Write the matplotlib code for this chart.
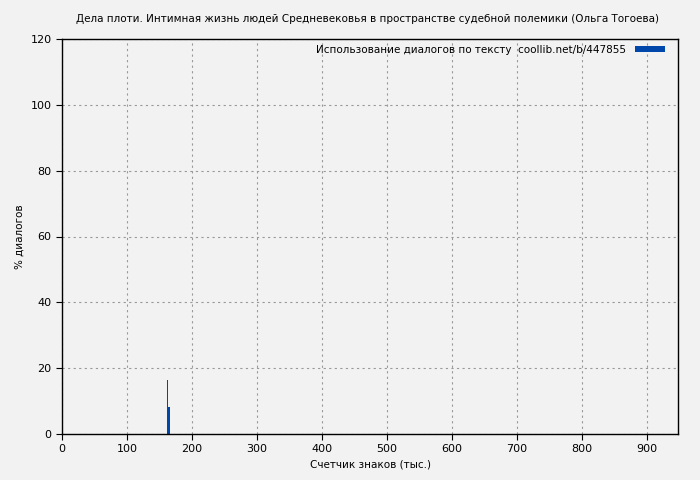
import matplotlib
matplotlib.use("Agg")
import matplotlib.pyplot as plt
from matplotlib.patches import Patch

title = "Дела плоти. Интимная жизнь людей Средневековья в пространстве судебной полемики (Ольга Тогоева)"
legend_label = "Использование диалогов по тексту  coollib.net/b/447855"
x_pos = [162.3, 164.2]
heights = [16.4, 8.3]
widths = [1.5, 2.6]
x_ticks = [0, 100, 200, 300, 400, 500, 600, 700, 800, 900]
y_ticks = [0, 20, 40, 60, 80, 100, 120]

bg = "#f2f2f2"
color = "#0047ab"

plt.rcParams['font.family'] = ['DejaVu Sans']
fig = plt.figure(figsize=(7, 4.8), dpi=100, facecolor=bg)
ax = fig.add_axes([62/700, 1-434/480, (678-62)/700, (434-39)/480])
ax.set_facecolor(bg)
ax.bar(x_pos, heights, width=widths, color=color, align='center', linewidth=0)
ax.set_xlim(0, 948)
ax.set_ylim(0, 120)
ax.set_xticks(x_ticks)
ax.set_yticks(y_ticks)
ax.grid(True, color="#999999", linestyle=(0, (2, 3)), linewidth=0.8)
ax.set_axisbelow(True)
ax.tick_params(direction='out', length=4, labelsize=8, colors='black')
for s in ax.spines.values():
    s.set_color('black')
    s.set_linewidth(1)
ax.set_xlabel("Счетчик знаков (тыс.)", fontsize=7.5)
ax.set_ylabel("% диалогов", fontsize=7.5)
fig.text(368/700, 1-19/480, title, ha='center', va='center', fontsize=7.5)
h = Patch(facecolor=color, edgecolor='none')
leg = ax.legend([h], [legend_label], loc='upper right', frameon=False, fontsize=7.5,
                handlelength=2.9, handleheight=0.45, markerfirst=False,
                borderaxespad=0, borderpad=0, handletextpad=0.8,
                bbox_to_anchor=((665 - 62) / 616, (434 - 45) / 395))
fig.savefig("out.png", dpi=100, facecolor=bg)
